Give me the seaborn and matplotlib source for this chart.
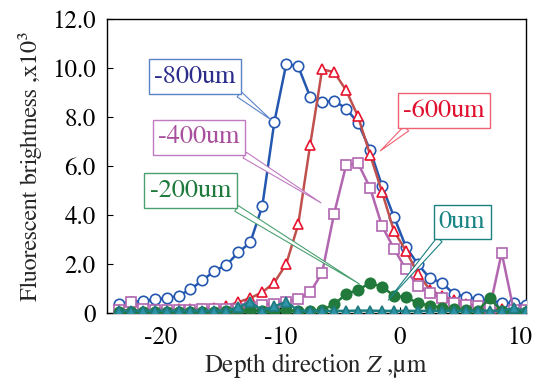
import matplotlib
matplotlib.use('Agg')
import matplotlib.pyplot as plt
import seaborn as sns

# depth positions (um)
depth = [-23.5, -22.5, -21.5, -20.5, -19.5, -18.5, -17.5, -16.5, -15.5, -14.5,
         -13.5, -12.5, -11.5, -10.5, -9.5, -8.5, -7.5, -6.5, -5.5, -4.5,
         -3.5, -2.5, -1.5, -0.5, 0.5, 1.5, 2.5, 3.5, 4.5, 5.5,
         6.5, 7.5, 8.5, 9.5, 10.5]

# fluorescent brightness, x10^3
b_800 = [0.35, 0.46, 0.49, 0.56, 0.61, 0.70, 0.97, 1.33, 1.72, 1.96,
         2.47, 2.88, 4.36, 7.77, 10.15, 10.05, 8.81, 8.59, 8.66, 8.33,
         7.75, 6.65, 5.19, 3.92, 2.70, 1.99, 1.42, 1.24, 0.78, 0.67,
         0.57, 0.50, 0.43, 0.40, 0.32]
b_600 = [0.12, 0.12, 0.12, 0.13, 0.14, 0.15, 0.16, 0.18, 0.20, 0.28,
         0.45, 0.61, 0.85, 1.24, 2.00, 3.61, 6.86, 9.93, 9.82, 9.08,
         8.01, 6.46, 4.94, 3.34, 2.54, 1.60, 0.95, 0.70, 0.55, 0.38,
         0.27, 0.20, 0.15, 0.12, 0.10]
b_400 = [0.12, 0.45, 0.15, 0.14, 0.14, 0.14, 0.14, 0.15, 0.15, 0.16,
         0.18, 0.25, 0.34, 0.38, 0.47, 0.57, 0.84, 1.65, 4.05, 6.02,
         6.10, 5.11, 3.55, 2.63, 1.78, 1.10, 0.80, 0.61, 0.40, 0.32,
         0.27, 0.20, 2.46, 0.13, 0.12]
b_200 = [0.06, 0.06, 0.06, 0.06, 0.06, 0.06, 0.06, 0.06, 0.06, 0.07,
         0.08, 0.12, 0.08, 0.10, 0.12, 0.08, 0.08, 0.12, 0.36, 0.77,
         0.95, 1.22, 1.08, 0.70, 0.65, 0.41, 0.30, 0.22, 0.15, 0.12,
         0.10, 0.61, 0.08, 0.06, 0.06]
b_0 = [0.09, 0.09, 0.09, 0.09, 0.09, 0.09, 0.09, 0.09, 0.09, 0.09,
       0.24, 0.46, 0.10, 0.27, 0.46, 0.10, 0.09, 0.09, 0.09, 0.09,
       0.10, 0.10, 0.09, 0.09, 0.09, 0.09, 0.09, 0.09, 0.09, 0.09,
       0.09, 0.10, 0.09, 0.20, 0.09]

sns.set_style('ticks')
plt.rcParams['font.family'] = ['FreeSerif', 'STIXGeneral', 'DejaVu Serif']
plt.rcParams['mathtext.fontset'] = 'stix'
plt.rcParams['axes.unicode_minus'] = False

fig, ax = plt.subplots(figsize=(5.43, 3.87), dpi=100)
fig.subplots_adjust(left=0.1965, right=0.968, top=0.952, bottom=0.191)

series = [
    # values, line colour, marker, face, edge, zorder
    (b_800, '#2457b0', 'o', 'white', '#2457b0', 3),
    (b_600, '#c0504d', '^', 'white', '#e8132d', 4),
    (b_400, '#b266b0', 's', 'white', '#b266b0', 5),
    (b_200, '#217a3c', 'o', '#217a3c', '#217a3c', 6),
    (b_0, '#1a7f80', '^', '#2e92a8', '#1f7a80', 7),
]
for vals, lc, mk, fc, ec, z in series:
    sns.lineplot(x=depth, y=vals, ax=ax, color=lc, linewidth=1.8,
                 marker=mk, markersize=7.5, markerfacecolor=fc,
                 markeredgecolor=ec, markeredgewidth=1.2,
                 estimator=None, sort=False, zorder=z)

ax.set_xlim(-24.5, 10.5)
ax.set_ylim(0, 12)
ax.set_xticks([-20, -10, 0, 10])
ax.set_yticks([0, 2, 4, 6, 8, 10, 12])
ax.set_yticklabels(['0', '2.0', '4.0', '6.0', '8.0', '10.0', '12.0'])
ax.tick_params(direction='in', length=4, labelsize=18, colors='black')
ax.tick_params(axis='x', pad=9)
ax.tick_params(axis='y', pad=8)
for s in ax.spines.values():
    s.set_visible(True)
    s.set_color('black')
    s.set_linewidth(1.0)

ax.set_xlabel('Depth direction $\\mathit{Z}$ ,\u00b5m', fontsize=18, labelpad=1)
ax.set_ylabel('Fluorescent brightness ,x10\u00b3', fontsize=17.5, labelpad=7)

# callouts: label, text colour, border colour, box centre, target, relpos
callouts = [
    ('-800um', '#2b2b8c', '#5a82c8', (-17.1, 9.64), (depth[13], b_800[13]), (0.95, 0.0)),
    ('-400um', '#a8509e', '#c07ac0', (-16.8, 7.16), (-6.3, 4.4), (0.95, 0.0)),
    ('-200um', '#1d7a3c', '#4aa070', (-17.5, 4.99), (-3.1, 1.1), (0.95, 0.0)),
    ('-600um', '#e0102e', '#f06070', (3.7, 8.25), (-1.9, 6.5), (0.12, 0.0)),
    ('0um', '#1a8585', '#1a8080', (5.2, 3.72), (-1.2, 0.4), (0.12, 0.0)),
]
for txt, tc, bc, pos, tgt, rp in callouts:
    ax.annotate(txt, xy=tgt, xytext=pos, textcoords='data',
                ha='center', va='center', color=tc, fontsize=19,
                bbox=dict(boxstyle='square,pad=0.2', fc='white', ec=bc, lw=1.0),
                arrowprops=dict(arrowstyle='wedge,tail_width=0.25,shrink_factor=0.5',
                                fc='white', ec=bc, lw=0.8, relpos=rp,
                                shrinkA=0, shrinkB=3),
                zorder=10)

fig.savefig('out.png', dpi=100)
